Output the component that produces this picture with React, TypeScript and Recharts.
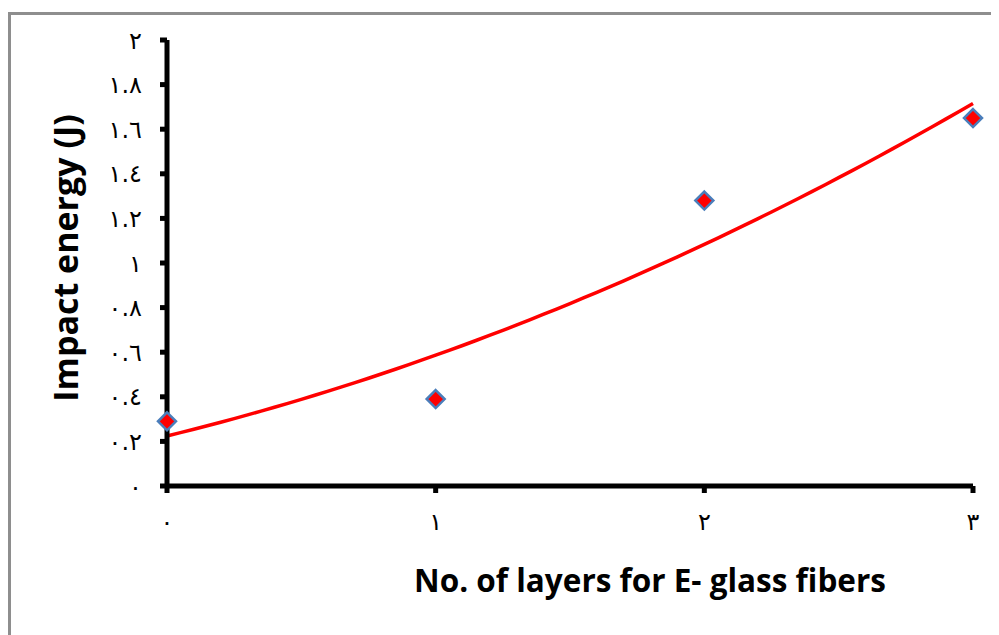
import React from 'react';
import { ComposedChart, XAxis, YAxis, Scatter, Line, Label } from 'recharts';

const layers = [0, 1, 2, 3];
const impactEnergy = [0.29, 0.39, 1.28, 1.65];
const xTicks = [0, 1, 2, 3];
const xTickLabels = ['٠', '١', '٢', '٣'];
const yTicks = [0, 0.2, 0.4, 0.6, 0.8, 1, 1.2, 1.4, 1.6, 1.8, 2];
const yTickLabels = ['٠', '٠.٢', '٠.٤', '٠.٦', '٠.٨', '١', '١.٢', '١.٤', '١.٦', '١.٨', '٢'];
const xTitle = 'No. of layers for E- glass fibers';
const yTitle = 'Impact energy (J)';

const points = layers.map((x, i) => ({ x, y: impactEnergy[i] }));

// Second-order polynomial least-squares trendline fitted to the data (as in the original chart)
function polyFit2(xs: number[], ys: number[]) {
  const n = xs.length;
  const s = [0, 0, 0, 0, 0];
  const t = [0, 0, 0];
  for (let i = 0; i < n; i++) {
    for (let k = 0; k < 5; k++) s[k] += Math.pow(xs[i], k);
    for (let k = 0; k < 3; k++) t[k] += ys[i] * Math.pow(xs[i], k);
  }
  const A = [
    [s[0], s[1], s[2], t[0]],
    [s[1], s[2], s[3], t[1]],
    [s[2], s[3], s[4], t[2]],
  ];
  for (let c = 0; c < 3; c++) {
    for (let r = c + 1; r < 3; r++) {
      const f = A[r][c] / A[c][c];
      for (let k = c; k < 4; k++) A[r][k] -= f * A[c][k];
    }
  }
  const coef = [0, 0, 0];
  for (let r = 2; r >= 0; r--) {
    let v = A[r][3];
    for (let k = r + 1; k < 3; k++) v -= A[r][k] * coef[k];
    coef[r] = v / A[r][r];
  }
  return coef;
}
const coef = polyFit2(layers, impactEnergy);
const trend = Array.from({ length: 61 }, (_, i) => {
  const x = i * 0.05;
  return { x, t: coef[0] + coef[1] * x + coef[2] * x * x };
});

const Diamond = (props: any) => {
  const { cx, cy } = props;
  const r = 9;
  return (
    <polygon
      points={`${cx},${cy - r} ${cx + r},${cy} ${cx},${cy + r} ${cx - r},${cy}`}
      fill="#ff0000"
      stroke="#4a7ebb"
      strokeWidth={2.5}
    />
  );
};

const titleFont = '"Open Sans", Lato, sans-serif';
const tickFont = '"DejaVu Sans", sans-serif';

export default function App() {
  return (
    <div style={{ position: 'relative', width: 991, height: 627, overflow: 'hidden' }}>
      <div
        style={{
          position: 'absolute',
          left: 0,
          top: 4,
          width: 1100,
          height: 800,
          border: '3px solid #8e8e8e',
          boxSizing: 'border-box',
        }}
      />
      <div style={{ position: 'absolute', left: 0, top: 0 }}>
        <ComposedChart
          width={991}
          height={627}
          margin={{ top: 32, right: 26, bottom: 89, left: 99 }}
        >
          <XAxis
            type="number"
            dataKey="x"
            domain={[0, 3]}
            ticks={xTicks}
            height={60}
            axisLine={{ stroke: '#000', strokeWidth: 5 }}
            tickLine={{ stroke: '#000', strokeWidth: 5 }}
            tickSize={7}
            tickMargin={20}
            tick={{ fill: '#000', fontSize: 24, fontFamily: tickFont }}
            tickFormatter={(v: number) => xTickLabels[xTicks.indexOf(v)]}
          >
            <Label
              content={() => (
                <text
                  x={642}
                  y={584}
                  textAnchor="middle"
                  fontFamily={titleFont}
                  fontWeight="bold"
                  fontSize={31.5}
                  fill="#000"
                >
                  {xTitle}
                </text>
              )}
            />
          </XAxis>
          <YAxis
            type="number"
            domain={[0, 2]}
            ticks={yTicks}
            width={60}
            axisLine={{ stroke: '#000', strokeWidth: 5 }}
            tickLine={{ stroke: '#000', strokeWidth: 5 }}
            tickSize={7}
            tickMargin={18}
            tick={{ fill: '#000', fontSize: 24, fontFamily: tickFont }}
            tickFormatter={(v: number) => yTickLabels[yTicks.findIndex((t) => Math.abs(t - v) < 1e-9)]}
          >
            <Label
              content={() => (
                <text
                  x={57}
                  y={250}
                  transform="rotate(-90 57 250)"
                  textAnchor="middle"
                  dominantBaseline="central"
                  fontFamily={titleFont}
                  fontWeight="bold"
                  fontSize={34}
                  fill="#000"
                >
                  {yTitle}
                </text>
              )}
            />
          </YAxis>
          <Line
            data={trend}
            dataKey="t"
            type="linear"
            stroke="#ff0000"
            strokeWidth={3.5}
            dot={false}
            activeDot={false}
            isAnimationActive={false}
          />
          <Scatter data={points} dataKey="y" shape={<Diamond />} isAnimationActive={false} />
        </ComposedChart>
      </div>
    </div>
  );
}
